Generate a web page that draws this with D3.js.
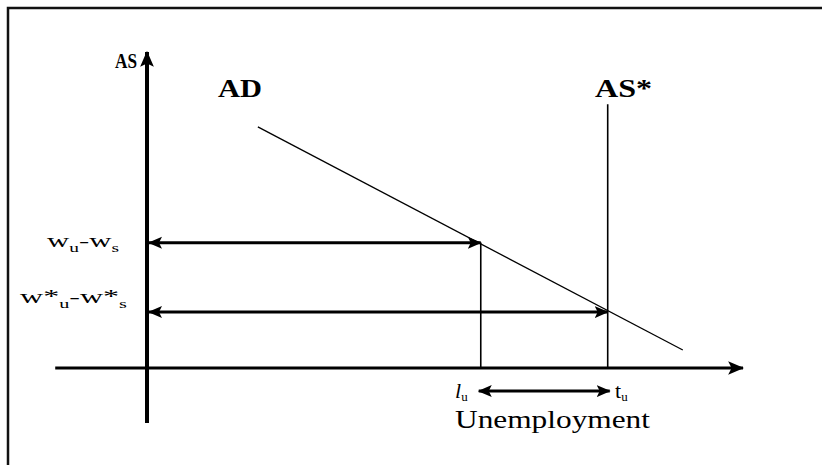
<!DOCTYPE html>
<html>
<head>
<meta charset="utf-8">
<script src="https://cdn.jsdelivr.net/npm/d3@7"></script>
<style>
  body { margin: 0; background: #fff; }
  text { font-family: "Liberation Serif", "DejaVu Serif", serif; fill: #000; }
</style>
</head>
<body>
<div id="chart"></div>
<script>
// levels, in a 0..100 space for each axis
const adLine = [{ x: 18.6, y: 76.3 }, { x: 89.9, y: 5.7 }]
const unemployment = [
  { key: "lu", x: 56.0, wage: 39.6, top: 39.6 },
  { key: "tu", x: 77.3, wage: 17.7, top: 83.5 },
]
const axisExtent = { xMin: -15.4, xMax: 100, yMin: -17.4, yMax: 100 }
const gapArrowY = -7.3

const width = 822
const height = 465

const svg = d3.select("#chart").append("svg").attr("width", width).attr("height", height)

// frame
svg.append("rect")
  .attr("x", 8).attr("y", 8).attr("width", 830).attr("height", 480)
  .attr("fill", "none").attr("stroke", "#111").attr("stroke-width", 2.5)

const xScale = d3.scaleLinear().domain([0, 100]).range([147, 743])
const yScale = d3.scaleLinear().domain([0, 100]).range([368, 52])

// arrow marker
const defs = svg.append("defs")
function marker(id, size) {
  defs.append("marker")
    .attr("id", id)
    .attr("viewBox", "0 -6 14 12")
    .attr("refX", 13).attr("refY", 0)
    .attr("markerWidth", size).attr("markerHeight", size)
    .attr("markerUnits", "userSpaceOnUse")
    .attr("orient", "auto-start-reverse")
    .append("path")
    .attr("d", "M0,-6 L14,0 L0,6 L3,0 Z")
    .attr("fill", "#000")
}
marker("head", 16)
marker("headSmall", 14)

// axes
svg.append("line")
  .attr("x1", xScale(0)).attr("x2", xScale(0))
  .attr("y1", yScale(axisExtent.yMin)).attr("y2", yScale(axisExtent.yMax))
  .attr("stroke", "#000").attr("stroke-width", 4)
  .attr("marker-end", "url(#head)")
svg.append("line")
  .attr("x1", xScale(axisExtent.xMin)).attr("x2", xScale(axisExtent.xMax))
  .attr("y1", yScale(0)).attr("y2", yScale(0))
  .attr("stroke", "#000").attr("stroke-width", 3)
  .attr("marker-end", "url(#head)")

// AD curve
const line = d3.line().x((d) => xScale(d.x)).y((d) => yScale(d.y))
svg.append("path")
  .datum(adLine)
  .attr("d", line)
  .attr("fill", "none").attr("stroke", "#000").attr("stroke-width", 1.3)

// verticals
svg.selectAll(".vert")
  .data(unemployment)
  .enter()
  .append("line")
  .attr("class", "vert")
  .attr("x1", (d) => xScale(d.x)).attr("x2", (d) => xScale(d.x))
  .attr("y1", yScale(0)).attr("y2", (d) => yScale(d.top))
  .attr("stroke", "#000").attr("stroke-width", 1.6)

// wage gap arrows
svg.selectAll(".wage")
  .data(unemployment)
  .enter()
  .append("line")
  .attr("class", "wage")
  .attr("x1", xScale(0) + 2).attr("x2", (d) => xScale(d.x))
  .attr("y1", (d) => yScale(d.wage)).attr("y2", (d) => yScale(d.wage))
  .attr("stroke", "#000").attr("stroke-width", 3)
  .attr("marker-start", "url(#headSmall)")
  .attr("marker-end", "url(#headSmall)")

// unemployment gap arrow
svg.append("line")
  .attr("x1", xScale(unemployment[0].x) - 2).attr("x2", xScale(unemployment[1].x) + 2)
  .attr("y1", yScale(gapArrowY)).attr("y2", yScale(gapArrowY))
  .attr("stroke", "#000").attr("stroke-width", 3)
  .attr("marker-start", "url(#headSmall)")
  .attr("marker-end", "url(#headSmall)")

// labels
svg.append("text").attr("x", 115).attr("y", 68).attr("font-size", 21).attr("font-weight", "bold")
  .attr("textLength", 22).attr("lengthAdjust", "spacingAndGlyphs").text("AS")
svg.append("text").attr("x", 218).attr("y", 97).attr("font-size", 26).attr("font-weight", "bold")
  .attr("textLength", 44).attr("lengthAdjust", "spacingAndGlyphs").text("AD")
svg.append("text").attr("x", 595).attr("y", 97).attr("font-size", 26).attr("font-weight", "bold")
  .attr("textLength", 57).attr("lengthAdjust", "spacingAndGlyphs").text("AS*")

function wageLabel(x, y, star, len) {
  const t = svg.append("text").attr("x", x).attr("y", y).attr("font-size", 19)
    .attr("textLength", len).attr("lengthAdjust", "spacingAndGlyphs")
  t.append("tspan").text(star ? "w*" : "w")
  t.append("tspan").attr("dy", 5).attr("font-size", 12).text("u")
  t.append("tspan").attr("dy", -5).text(star ? "-w*" : "-w")
  t.append("tspan").attr("dy", 5).attr("font-size", 12).text("s")
}
wageLabel(47, 247, false, 72)
wageLabel(20, 303, true, 107)

const lu = svg.append("text").attr("x", 455).attr("y", 398).attr("font-size", 22)
lu.append("tspan").attr("font-style", "italic").text("l")
lu.append("tspan").attr("dy", 3).attr("font-size", 13).text("u")
const tu = svg.append("text").attr("x", 615).attr("y", 398).attr("font-size", 22)
tu.append("tspan").text("t")
tu.append("tspan").attr("dy", 3).attr("font-size", 13).text("u")

svg.append("text").attr("x", 455).attr("y", 428).attr("font-size", 25)
  .attr("textLength", 195).attr("lengthAdjust", "spacingAndGlyphs").text("Unemployment")
</script>
</body>
</html>
